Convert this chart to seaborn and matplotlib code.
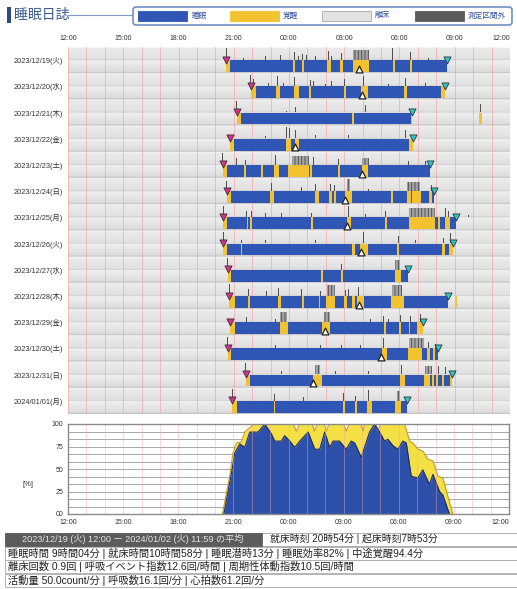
import numpy as np
import pandas as pd
import matplotlib
matplotlib.use("Agg")
import matplotlib.pyplot as plt
from matplotlib.patches import Rectangle, FancyBboxPatch
import seaborn as sns

W, H = 517, 589

# ---- data (hours counted from 12:00) ----
days = ["2023/12/19(火)", "2023/12/20(水)", "2023/12/21(木)", "2023/12/22(金)",
        "2023/12/23(土)", "2023/12/24(日)", "2023/12/25(月)", "2023/12/26(火)",
        "2023/12/27(水)", "2023/12/28(木)", "2023/12/29(金)", "2023/12/30(土)",
        "2023/12/31(日)", "2024/01/01(月)"]
hour_ticks = [0, 3, 6, 9, 12, 15, 18, 21, 24]
hour_labels = ["12:00", "15:00", "18:00", "21:00", "00:00", "03:00", "06:00", "09:00", "12:00"]

bed_times = [8.59, 9.91, 9.17, 8.80, 8.39, 8.62, 8.44, 8.44, 8.68, 8.75, 8.80, 8.68, 9.66, 8.93]
rise_times = [20.58, 20.49, 18.68, 18.73, 19.67, 19.85, 21.07, 20.89, 18.46, 20.63, 19.26, 20.09, 20.85, 18.41]
mid_marks = [15.82, 15.96, None, 12.34, 15.96, 15.05, 15.14, 15.92, None, 15.78, 13.97, 16.99, 13.28, None]

awake = [
    [(8.59, 8.80), (12.21, 12.34), (12.70, 12.81), (14.08, 14.26), (14.75, 14.93), (15.45, 16.32), (17.63, 17.74), (18.55, 18.68)],
    [(9.91, 10.20), (11.30, 11.49), (12.25, 12.52), (13.10, 13.21), (14.96, 15.11), (15.90, 16.29), (18.26, 18.39), (20.24, 20.49)],
    [(9.17, 9.40), (15.42, 15.53), (18.60, 18.68), (22.34, 22.48)],
    [(8.80, 8.99), (11.83, 12.12), (12.34, 12.52), (18.50, 18.73)],
    [(8.39, 8.62), (9.58, 9.67), (10.47, 10.58), (11.21, 11.43), (11.97, 13.06), (13.12, 13.24), (14.66, 14.78), (15.96, 16.27)],
    [(8.62, 8.84), (10.98, 11.21), (13.42, 13.64), (14.18, 14.33), (14.42, 14.55), (15.05, 15.42), (17.54, 17.63), (18.41, 18.62), (18.68, 19.15), (19.58, 19.76)],
    [(8.44, 8.66), (9.71, 9.80), (9.89, 9.98), (13.19, 13.33), (15.14, 15.36), (17.19, 17.32), (18.50, 19.95), (20.09, 20.22), (20.45, 20.76)],
    [(8.44, 8.66), (9.40, 9.47), (15.42, 15.60), (15.87, 16.29), (17.86, 17.99), (20.31, 20.49), (20.67, 20.89)],
    [(8.68, 8.86), (13.75, 13.84), (14.84, 14.93), (17.77, 18.10)],
    [(8.75, 9.08), (9.80, 9.89), (11.40, 11.56), (12.70, 12.81), (13.64, 13.71), (14.02, 14.51), (14.96, 15.15), (15.42, 15.60), (15.69, 16.05), (17.54, 18.22), (21.03, 21.10)],
    [(8.80, 9.08), (11.52, 11.94), (13.79, 14.24), (17.14, 17.26), (17.95, 18.10), (18.50, 18.59), (18.95, 19.26)],
    [(8.68, 8.86), (17.05, 17.32), (18.46, 19.22), (19.49, 19.67), (19.80, 19.95)],
    [(9.66, 9.89), (13.28, 13.79), (18.04, 18.31), (19.35, 19.67), (19.76, 19.85), (20.00, 20.07), (20.31, 20.40), (20.76, 20.85)],
    [(8.93, 9.17), (11.16, 11.25), (14.93, 15.02), (15.56, 15.69), (16.23, 16.50), (17.77, 18.08)],
]

# activity spikes: (start, end, relative height)
spikes = [
    [(8.59, 8.59, 1.0), (9.53, 9.53, 0.2), (10.71, 10.71, 0.3), (11.52, 11.52, 0.4), (12.28, 12.28, 0.7), (12.52, 12.52, 0.3),
     (12.73, 12.73, 0.5), (12.97, 12.97, 0.4), (13.42, 13.42, 0.3), (14.15, 14.15, 0.8), (14.33, 14.33, 0.3), (14.84, 14.84, 0.6),
     (15.50, 16.32, 0.85), (17.63, 17.63, 1.0), (18.59, 18.59, 0.7), (19.58, 19.58, 0.2), (20.09, 20.09, 0.3)],
    [(9.91, 9.91, 1.0), (10.07, 10.07, 0.6), (10.89, 10.89, 0.3), (11.39, 11.39, 0.9), (11.70, 11.70, 0.3), (12.30, 12.30, 0.8),
     (12.43, 12.43, 0.7), (13.15, 13.15, 0.5), (13.33, 13.33, 0.4), (13.97, 13.97, 0.2), (14.33, 14.33, 0.4), (15.02, 15.02, 0.6),
     (16.05, 16.05, 0.9), (17.41, 17.41, 0.2), (18.32, 18.32, 0.7), (19.40, 19.40, 0.3), (20.31, 20.31, 0.9)],
    [(9.17, 9.17, 1.0), (10.53, 10.53, 0.2), (11.88, 11.88, 0.15), (12.34, 12.34, 0.5), (13.79, 13.79, 0.7), (15.42, 15.42, 0.6),
     (16.14, 16.14, 0.6), (17.05, 17.05, 0.2), (18.68, 18.68, 0.8), (22.39, 22.39, 0.7)],
    [(8.80, 8.80, 1.0), (10.71, 10.71, 0.2), (11.88, 11.88, 1.0), (12.01, 12.01, 0.9), (12.34, 12.34, 0.7), (13.42, 13.42, 0.3),
     (15.24, 15.24, 0.3), (15.96, 15.96, 0.5), (17.05, 17.05, 0.5), (17.32, 17.32, 0.4), (18.32, 18.32, 0.7), (18.68, 18.68, 0.6)],
    [(8.39, 8.39, 1.0), (9.17, 9.17, 0.6), (9.62, 9.62, 0.4), (10.53, 10.53, 0.4), (11.25, 11.25, 0.8), (12.16, 13.06, 0.75),
     (13.33, 13.33, 0.7), (14.69, 14.69, 0.5), (15.96, 16.32, 0.6), (17.59, 17.59, 0.2), (18.50, 18.50, 0.3), (19.40, 19.40, 0.3)],
    [(8.62, 8.62, 0.9), (11.07, 11.07, 0.7), (12.70, 12.70, 0.3), (13.42, 13.42, 0.6), (14.24, 14.24, 0.6), (14.47, 14.47, 0.5),
     (15.15, 15.33, 1.0), (16.32, 16.32, 0.2), (17.59, 17.59, 0.6), (18.41, 19.13, 0.75), (19.76, 19.76, 0.5)],
    [(8.44, 8.44, 1.0), (9.71, 9.71, 0.5), (9.98, 9.98, 0.5), (10.71, 10.71, 0.4), (11.61, 11.61, 0.4), (13.24, 13.24, 0.4),
     (15.24, 15.24, 1.0), (16.14, 16.14, 0.3), (17.23, 17.23, 0.5), (18.50, 19.95, 0.8), (20.49, 20.49, 0.8), (20.67, 20.67, 0.5),
     (21.76, 21.76, 0.2)],
    [(8.44, 8.44, 1.0), (9.44, 9.44, 0.3), (10.71, 10.71, 0.3), (12.43, 12.43, 0.3), (13.42, 13.42, 0.3), (15.42, 15.42, 0.6),
     (16.05, 16.05, 1.0), (17.95, 17.95, 0.6), (18.86, 18.86, 0.3), (20.40, 20.40, 0.5), (20.76, 20.76, 0.9)],
    [(8.68, 8.68, 1.0), (13.79, 13.79, 0.4), (14.87, 14.87, 0.5), (17.77, 18.04, 0.85), (18.46, 18.46, 0.6)],
    [(8.75, 8.75, 1.0), (9.80, 9.80, 0.6), (10.80, 10.80, 0.4), (11.43, 11.43, 0.7), (12.70, 12.70, 0.6), (13.70, 13.70, 0.4),
     (14.06, 14.51, 0.95), (15.05, 15.05, 0.5), (15.24, 15.24, 0.6), (15.78, 15.78, 0.8), (17.59, 18.13, 0.95), (21.07, 21.07, 0.6)],
    [(8.80, 8.80, 1.0), (9.71, 9.71, 0.4), (11.25, 11.25, 0.3), (11.52, 11.88, 0.85), (13.88, 14.24, 0.85), (16.41, 16.41, 0.3),
     (17.14, 17.14, 0.5), (17.41, 17.41, 0.3), (18.04, 18.04, 0.6), (18.59, 18.59, 0.5), (19.13, 19.13, 0.7)],
    [(8.68, 8.68, 1.0), (11.25, 11.25, 0.3), (13.70, 13.70, 0.3), (14.87, 14.87, 0.3), (15.87, 15.87, 0.3), (17.14, 17.14, 0.9),
     (18.50, 19.31, 0.9), (19.58, 19.58, 0.5), (19.95, 19.95, 0.4)],
    [(9.66, 9.66, 1.0), (11.61, 11.61, 0.3), (13.42, 13.70, 0.85), (14.51, 14.51, 0.3), (16.32, 16.32, 0.3), (18.13, 18.13, 0.8),
     (19.40, 19.76, 0.75), (20.13, 20.13, 0.7), (20.49, 20.49, 0.6), (20.85, 20.85, 0.5)],
    [(8.93, 8.93, 1.0), (11.21, 11.21, 0.6), (12.79, 12.79, 0.3), (14.96, 14.96, 0.7), (15.60, 15.60, 0.4), (16.32, 16.32, 0.9),
     (17.86, 18.04, 0.8), (18.41, 18.41, 0.5)],
]

# bottom chart: percentage of nights asleep / in bed
sleep_t = [8.48, 8.90, 9.08, 9.35, 9.62, 9.89, 10.34, 10.71, 11.07, 11.25, 11.61, 11.79, 12.07, 12.34, 12.61,
           13.07, 13.43, 13.70, 13.97, 14.24, 14.42, 14.78, 15.14, 15.41, 15.60, 15.96, 16.41, 16.68, 16.96,
           17.23, 17.41, 17.68, 17.95, 18.22, 18.41, 18.68, 19.04, 19.31, 19.67, 19.86, 20.22, 20.40, 20.76]
sleep_pct = [0, 46, 68, 78, 74, 91, 91, 100, 89, 81, 81, 87, 81, 74, 81,
             91, 72, 72, 91, 74, 81, 81, 72, 81, 79, 63, 91, 100, 91,
             81, 83, 76, 72, 81, 79, 42, 40, 49, 33, 44, 25, 21, 0]
inbed_t = [8.40, 8.80, 8.98, 9.16, 9.43, 9.62, 9.89, 10.16, 12.25, 12.43, 12.60, 13.30, 13.42, 13.55, 13.95,
           14.06, 14.20, 15.00, 15.14, 15.30, 15.95, 16.05, 16.15, 16.75, 16.87, 17.00, 18.32, 18.59, 18.77,
           19.04, 19.31, 19.58, 19.86, 20.13, 20.40, 20.94]
inbed_pct = [0, 42, 68, 79, 80, 91, 96, 100, 100, 92, 100, 100, 92, 100, 100,
             92, 100, 100, 92, 100, 100, 92, 100, 100, 92, 100, 100, 81, 79,
             72, 70, 61, 59, 42, 40, 0]

summary_lines = [
    "睡眠時間 9時間04分 | 就床時間10時間58分 | 睡眠潜時13分 | 睡眠効率82% | 中途覚醒94.4分",
    "離床回数 0.9回 | 呼吸イベント指数12.6回/時間 | 周期性体動指数10.5回/時間",
    "活動量 50.0count/分 | 呼吸数16.1回/分 | 心拍数61.2回/分",
]

BLUE = "#2f56b4"
YELLOW = "#f2c230"
PINK = "#d8308c"
TEAL = "#2ec4c8"
GRID = "#f0a8a8"

sns.set_theme(style="white")
plt.rcParams["font.family"] = ["Liberation Sans", "Noto Sans CJK JP"]
plt.rcParams["hatch.linewidth"] = 0.6

fig = plt.figure(figsize=(W / 100, H / 100), dpi=100)


def px(x0, y0, x1, y1):
    return [x0 / W, 1 - y1 / H, (x1 - x0) / W, (y1 - y0) / H]


# ---- overlay for header and footer (pixel coordinates) ----
ov = fig.add_axes([0, 0, 1, 1])
ov.set_xlim(0, W)
ov.set_ylim(H, 0)
ov.axis("off")

ov.add_patch(Rectangle((7, 7), 4, 16, color="#2b4a86", lw=0))
ov.text(14, 15, "睡眠日誌", fontsize=10, color="#3a5a90", va="center", ha="left")
ov.plot([68, 133], [15, 15], color="#8098c0", lw=0.8)
ov.add_patch(FancyBboxPatch((133, 7), 379, 18, boxstyle="round,pad=0,rounding_size=3",
                            fc="white", ec="#7090c8", lw=1.2))
legend_items = [("睡眠", BLUE, BLUE), ("覚醒", YELLOW, YELLOW), ("離床", "#e2e2e2", "#a8a8a8"), ("測定区間外", "#5a5a5a", "#5a5a5a")]
legend_x = [138, 230, 322, 415]
for (lab, fc, ec), lx in zip(legend_items, legend_x):
    ov.add_patch(Rectangle((lx, 11), 49, 10, fc=fc, ec=ec, lw=0.6))
    ov.text(lx + 53, 16, lab, fontsize=5.5, color="#3050a0", va="center", ha="left")

# footer
ov.add_patch(Rectangle((5, 533), 512, 12.5, fc="white", ec="#a0a0a0", lw=0.6))
ov.add_patch(Rectangle((5, 533), 257, 12.5, fc="#5c5c5c", ec="#5c5c5c", lw=0.6))
ov.text(133, 539.3, "2023/12/19 (火) 12:00 ー 2024/01/02 (火) 11:59 の平均", fontsize=6.6,
        color="#e4e4e4", ha="center", va="center")
ov.text(270, 539.3, "就床時刻 20時54分 | 起床時刻7時53分", fontsize=7.1, color="#222222", va="center")
for k, line in enumerate(summary_lines):
    y0 = 546.5 + k * 13.5
    ov.add_patch(Rectangle((5, y0), 512, 13, fc="white", ec="#a8a8a8", lw=0.6))
    ov.text(8, y0 + 6.7, line, fontsize=7.4, color="#222222", va="center")
ov.text(28, 484, "[%]", fontsize=5.5, color="#333333", ha="center", va="center")

# ---- diary rows ----
ax = fig.add_axes(px(68, 47, 510, 414))
n = 60
s = (np.arange(n) + 0.5) / n
level = np.select(
    [s < 0.04, s < 0.46, s < 0.50, s < 0.95],
    [0.97, 0.92 - 0.04 * (s - 0.04) / 0.42, 0.80, 0.94 - 0.08 * (s - 0.5) / 0.45],
    0.78,
)
bg = np.tile(level, len(days))[:, None] * np.ones((1, 2))
ax.imshow(bg, cmap="gray", vmin=0, vmax=1, extent=(0, 24, len(days), 0),
          aspect="auto", interpolation="bilinear", zorder=0)

for h in range(25):
    ax.axvline(h, color=GRID, lw=0.5, zorder=1)

for i in range(len(days)):
    ax.broken_barh([(bed_times[i], rise_times[i] - bed_times[i])], (i + 0.5, 0.45),
                   facecolors=BLUE, edgecolor="none", lw=0, zorder=2)
    ax.broken_barh([(a, b - a) for a, b in awake[i]], (i + 0.5, 0.45),
                   facecolors=YELLOW, edgecolor="none", lw=0, zorder=3)
    for t0, t1, hh in spikes[i]:
        if t1 > t0:
            # dense burst of movement
            ax.bar(t0, -0.44 * hh, width=t1 - t0, bottom=i + 0.49, align="edge",
                   color="#a4a4a4", edgecolor="#4a4a4a", hatch="|||||", lw=0, zorder=3)
        else:
            ax.bar(t0, -0.44 * hh, width=0.045, bottom=i + 0.49, align="center",
                   color="#505050", edgecolor="none", lw=0, zorder=3)

rows = np.arange(len(days)) + 0.5
sns.scatterplot(x=bed_times, y=rows - 0.02, marker="v", s=26, color=PINK,
                edgecolor="#333333", linewidth=0.6, ax=ax, zorder=5)
sns.scatterplot(x=rise_times, y=rows - 0.02, marker="v", s=26, color=TEAL,
                edgecolor="#333333", linewidth=0.6, ax=ax, zorder=5)
mid_x = [m for m in mid_marks if m is not None]
mid_y = [r for m, r in zip(mid_marks, rows) if m is not None]
sns.scatterplot(x=mid_x, y=np.array(mid_y) + 0.33, marker="^", s=24, color="white",
                edgecolor="#222222", linewidth=0.9, ax=ax, zorder=5)

ax.set_xlim(0, 24)
ax.set_ylim(len(days), 0)
ax.xaxis.tick_top()
ax.set_xticks(hour_ticks)
ax.set_xticklabels(hour_labels, fontsize=5, color="#333333")
ax.get_xticklabels()[-1].set_ha("right")
ax.set_yticks(rows)
ax.set_yticklabels(days, fontsize=5.3, color="#333333")
ax.tick_params(length=0, pad=3.5)
for sp in ax.spines.values():
    sp.set_visible(False)

# ---- average chart ----
ax2 = fig.add_axes(px(68, 424, 509, 514))
for k in range(1, 12):
    ax2.axhline(k * 100 / 12, color="#9a9a9a", lw=0.6, zorder=0)
ax2.fill_between(inbed_t, inbed_pct, color="#f4e044", lw=0, zorder=1)
ax2.fill_between(sleep_t, sleep_pct, color="#2d50aa", lw=0, zorder=2)
curves = pd.concat([
    pd.DataFrame({"t": inbed_t, "pct": inbed_pct, "kind": "inbed"}),
    pd.DataFrame({"t": sleep_t, "pct": sleep_pct, "kind": "sleep"}),
])
sns.lineplot(data=curves, x="t", y="pct", hue="kind", palette={"inbed": "#c89a20", "sleep": "#1c2c6c"},
             lw=0.8, legend=False, sort=False, ax=ax2, zorder=3)
for h in range(25):
    ax2.axvline(h, color=GRID, lw=0.5, alpha=0.6, zorder=4)
ax2.set_xlim(0, 24)
ax2.set_ylim(0, 100)
ax2.set_xticks(hour_ticks)
ax2.set_xticklabels(hour_labels, fontsize=5, color="#333333")
ax2.get_xticklabels()[-1].set_ha("right")
ax2.set_yticks([0, 25, 50, 75, 100])
ax2.set_yticklabels(["00", "25", "50", "75", "100"], fontsize=5, color="#333333")
ax2.tick_params(length=0, pad=3.5)
ax2.set_xlabel("")
ax2.set_ylabel("")
for sp in ax2.spines.values():
    sp.set_color("#8a8a8a")
    sp.set_linewidth(1.0)
    sp.set_zorder(6)

fig.savefig("out.png", dpi=100)
